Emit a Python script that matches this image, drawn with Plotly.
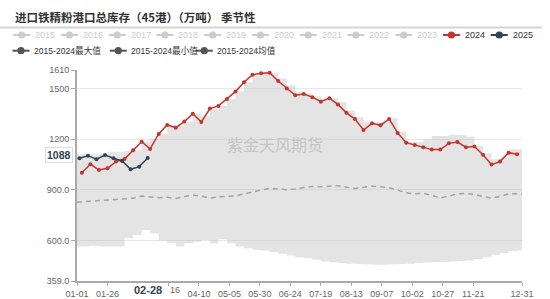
import plotly.graph_objects as go
import pandas as pd

# ---------------- data ----------------
title_text = "进口铁精粉港口总库存（45港）（万吨） 季节性"
watermark_text = "紫金天风期货"

hidden_years = ["2015", "2016", "2017", "2018", "2019", "2020", "2021", "2022", "2023"]
band_names = ["2015-2024最大值", "2015-2024最小值", "2015-2024均值"]

# weekly dates of 2024 (season axis is the 2024 calendar)
week_dates = list(pd.date_range("2024-01-05", periods=52, freq="7D"))
band_dates = [pd.Timestamp("2024-01-01")] + week_dates + [pd.Timestamp("2024-12-31")]

inv_2024 = [1001, 1051, 1017, 1027, 1067, 1082, 1134, 1185, 1142, 1231,
            1284, 1268, 1304, 1351, 1302, 1381, 1397, 1438, 1482, 1537,
            1582, 1590, 1594, 1545, 1500, 1460, 1468, 1449, 1422, 1443,
            1406, 1356, 1319, 1254, 1294, 1282, 1320, 1237, 1179, 1165,
            1152, 1138, 1138, 1175, 1183, 1152, 1156, 1108, 1049, 1067,
            1120, 1110]

dates_2025 = list(pd.date_range("2025-01-03", periods=9, freq="7D"))
inv_2025 = [1087, 1102, 1081, 1106, 1087, 1071, 1021, 1037, 1088]

band_max = [1110,
            1110, 1110, 1110, 1126, 1126, 1130, 1134, 1185, 1200, 1231,
            1284, 1280, 1304, 1351, 1340, 1381, 1397, 1438, 1482, 1537,
            1582, 1592, 1594, 1560, 1520, 1480, 1470, 1455, 1440, 1444,
            1420, 1370, 1330, 1300, 1300, 1300, 1324, 1245, 1183, 1183,
            1200, 1219, 1219, 1225, 1225, 1215, 1160, 1116, 1081, 1090,
            1140, 1140,
            1140]
band_min = [563,
            563, 568, 563, 563, 563, 612, 632, 662, 642, 598,
            586, 563, 583, 592, 602, 583, 606, 583, 563, 553,
            543, 540, 530, 520, 510, 500, 495, 485, 475, 470,
            465, 462, 460, 458, 455, 455, 458, 460, 462, 465,
            468, 470, 472, 475, 478, 480, 490, 500, 515, 525,
            535, 540,
            540]
band_avg = [826,
            828, 830, 833, 839, 843, 846, 850, 863, 860, 853,
            855, 848, 860, 868, 862, 850, 858, 860, 863, 875,
            888, 898, 908, 905, 900, 905, 912, 920, 918, 920,
            924, 915, 908, 915, 921, 918, 912, 898, 882, 876,
            879, 866, 852, 862, 876, 878, 872, 860, 850, 860,
            876, 876,
            875]

tick_dates = ["2024-01-01", "2024-01-26", "2024-02-20", "2024-03-16", "2024-04-10",
              "2024-05-05", "2024-05-30", "2024-06-24", "2024-07-19", "2024-08-13",
              "2024-09-07", "2024-10-02", "2024-10-27", "2024-11-21", "2024-12-31"]
# labels hidden behind the axis-pointer label box in the reference
covered_ticks = ["2024-02-20", "2024-03-16"]
y_ticks = [359, 600, 900, 1200, 1500, 1610]
y_tick_text = ["359.0", "600.0", "900.0", "1200", "1500", "1610"]

# ---------------- style ----------------
C2024 = "#c23531"
C2025 = "#2f4554"
CBAND = "#555555"
CINACT = "#cccccc"
FONT = "Liberation Sans, Noto Sans CJK SC, sans-serif"
CJK = "Noto Sans CJK SC, sans-serif"

W, H = 550, 299
L, R, T, B = 77, 522, 70, 281


def px(xp):
    return (xp - L) / (R - L)


def py(yp):
    return (B - yp) / (B - T)


x2025 = [d.replace(year=2024) for d in dates_2025]

fig = go.Figure()
fig.add_trace(go.Scatter(x=band_dates, y=band_min, mode="lines", line=dict(width=0, shape="hv"),
                         name=band_names[1], showlegend=False, hoverinfo="skip"))
fig.add_trace(go.Scatter(x=band_dates, y=band_max, mode="lines", line=dict(width=0, shape="hv"),
                         fill="tonexty", fillcolor="rgba(195,195,195,0.45)",
                         name=band_names[0], showlegend=False, hoverinfo="skip"))
fig.add_trace(go.Scatter(x=band_dates, y=band_avg, mode="lines",
                         line=dict(width=1.5, color="#a3a3a3", dash="5px,4px"),
                         name=band_names[2], showlegend=False))
fig.add_trace(go.Scatter(x=week_dates, y=inv_2024, mode="lines+markers",
                         line=dict(width=1.5, color=C2024), marker=dict(size=4, color=C2024),
                         name="2024", showlegend=False))
fig.add_trace(go.Scatter(x=x2025, y=inv_2025, mode="lines+markers",
                         line=dict(width=1.5, color=C2025), marker=dict(size=4, color=C2025),
                         name="2025", showlegend=False))

shapes = []
annotations = []

# title + underline
annotations.append(dict(text=title_text, x=px(13), y=py(17), xref="paper", yref="paper",
                        xanchor="left", yanchor="middle", showarrow=False,
                        font=dict(family=CJK, size=11.5, color="#333333", weight="bold")))
shapes.append(dict(type="line", xref="paper", yref="paper", x0=px(0), x1=px(542),
                   y0=py(27.5), y1=py(27.5), line=dict(color="#d4d4d4", width=2)))

# legend (drawn manually to match spacing)
row1 = [(n, CINACT, CINACT) for n in hidden_years] + [("2024", C2024, "#333333"), ("2025", C2025, "#333333")]
row2 = [(n, CBAND, "#333333") for n in band_names]


def legend_item(name, icol, tcol, cx, cy, tx, fs):
    shapes.append(dict(type="line", xref="paper", yref="paper", x0=px(cx - 8.5), x1=px(cx + 8.5),
                       y0=py(cy), y1=py(cy), line=dict(color=icol, width=2)))
    shapes.append(dict(type="circle", xref="paper", yref="paper", xsizemode="pixel", ysizemode="pixel",
                       xanchor=px(cx), yanchor=py(cy), x0=-3.6, x1=3.6, y0=-3.6, y1=3.6,
                       fillcolor=icol, line=dict(color=icol, width=0)))
    annotations.append(dict(text=name, x=px(tx), y=py(cy), xref="paper", yref="paper",
                            xanchor="left", yanchor="middle", showarrow=False, borderpad=0,
                            font=dict(family=FONT, size=fs, color=tcol)))


for i, (n, ic, tc) in enumerate(row1):
    cx = 21.7 + 47.75 * i
    legend_item(n, ic, tc, cx, 35, cx + 12.3, 9)
for cx, (n, ic, tc) in zip([21, 118.3, 204.3], row2):
    legend_item(n, ic, tc, cx, 50.7, cx + 11.8, 8.6)

# watermark
annotations.append(dict(text=watermark_text, x=px(275), y=py(143.5), xref="paper", yref="paper",
                        xanchor="center", yanchor="middle", showarrow=False,
                        font=dict(family=CJK, size=16, color="#c4c4c4")))

# axis-pointer labels for the latest 2025 value
annotations.append(dict(text=str(inv_2025[-1]), x=px(73), y=inv_2025[-1], xref="paper", yref="y",
                        xanchor="right", yanchor="middle", yshift=3, showarrow=False,
                        bgcolor="white", bordercolor="#dddddd", borderwidth=1, borderpad=1,
                        font=dict(family=FONT, size=10.5, color=C2025, weight="bold")))
annotations.append(dict(text=dates_2025[-1].strftime("%m-%d"), x=x2025[-1], y=py(290),
                        xref="x", yref="paper", xanchor="center", yanchor="middle",
                        showarrow=False, bgcolor="white", borderpad=0,
                        font=dict(family=FONT, size=11, color=C2025, weight="bold")))
# the visible tail ("16") of the 03-16 tick label that peeks out from behind the box
annotations.append(dict(text=covered_ticks[1][8:], x=covered_ticks[1], y=py(290),
                        xref="x", yref="paper", xanchor="left", yanchor="middle", xshift=1,
                        showarrow=False, borderpad=0,
                        font=dict(family=FONT, size=9, color="#666666")))

fig.update_layout(
    width=W, height=H,
    margin=dict(l=L, r=W - R, t=T, b=H - B),
    paper_bgcolor="white", plot_bgcolor="white",
    showlegend=False,
    font=dict(family=FONT, size=9, color="#666666"),
    shapes=shapes, annotations=annotations,
    xaxis=dict(type="date", range=["2024-01-01", "2024-12-31"], automargin=False,
               tickmode="array", tickvals=tick_dates,
               ticktext=["" if d in covered_ticks else d[5:] for d in tick_dates],
               ticks="outside", ticklen=3, tickcolor="#aaaaaa", tickwidth=1,
               showline=True, linecolor="#aaaaaa", linewidth=2,
               showgrid=False, zeroline=False,
               tickfont=dict(family=FONT, size=9, color="#666666")),
    yaxis=dict(range=[359, 1610], automargin=False,
               tickmode="array", tickvals=y_ticks, ticktext=y_tick_text,
               ticks="outside", ticklen=4, tickcolor="#aaaaaa", tickwidth=1,
               showline=True, linecolor="#aaaaaa", linewidth=2,
               showgrid=True, gridcolor="#e8e8e8", gridwidth=1, zeroline=False,
               tickfont=dict(family=FONT, size=9, color="#666666")),
)

fig.write_html("out.html")
